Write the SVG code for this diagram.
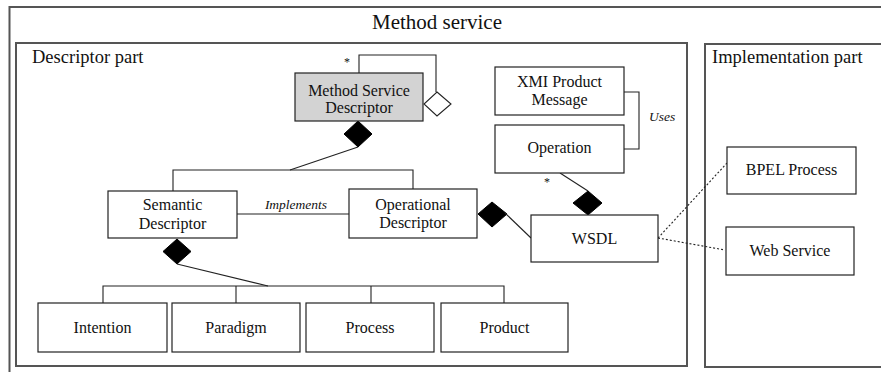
<svg xmlns="http://www.w3.org/2000/svg" width="881" height="372" viewBox="0 0 881 372">
<style>
.frame{fill:#fff;stroke:#555;stroke-width:2}
.node{fill:#fff;stroke:#222;stroke-width:1.2}
.grey{fill:#d3d3d3;stroke:#222;stroke-width:1.2}
.t{font-family:"Liberation Serif","Times New Roman",serif;font-size:16px;fill:#111;text-anchor:middle}
.lab{font-family:"Liberation Serif","Times New Roman",serif;fill:#111}
.it{font-family:"Liberation Serif","Times New Roman",serif;font-style:italic;font-size:13.5px;fill:#111}
.ln{fill:none;stroke:#222;stroke-width:1.1}
.dot{fill:none;stroke:#222;stroke-width:1.1;stroke-dasharray:2 2}
.fd{fill:#000;stroke:#000;stroke-width:1}
.od{fill:#fff;stroke:#222;stroke-width:1.1}
</style>
<rect width="881" height="372" fill="#fff"/>
<g id="method-service">
<rect class="frame" x="9.5" y="7" width="890" height="380"/>
<text class="lab" x="437" y="29" font-size="21" text-anchor="middle">Method service</text>
</g>
<g id="descriptor-part">
<rect class="frame" x="16" y="43" width="671" height="323"/>
<text class="lab" x="32" y="63" font-size="18.5">Descriptor part</text>
</g>
<g id="implementation-part">
<rect class="frame" x="705" y="44" width="190" height="323"/>
<text class="lab" x="712" y="63" font-size="18.5">Implementation part</text>
</g>
<g id="connectors">
<polyline class="ln" points="359,73 359,55 436,55 436,92"/>
<polygon class="od" points="437,92 451,104 437,116 424,104"/>
<text class="lab" x="347" y="66" font-size="12" text-anchor="middle">*</text>
<polygon class="fd" points="358,121 372,134 358,147 344,134"/>
<polyline class="ln" points="358,147 290,170"/>
<polyline class="ln" points="173,191 173,170 413,170 413,189"/>
<line class="ln" x1="237" y1="214" x2="349" y2="214"/>
<text class="it" x="296" y="209" text-anchor="middle">Implements</text>
<polygon class="fd" points="177,239 191,251.5 177,264 163,251.5"/>
<polyline class="ln" points="177,264 268,286"/>
<polyline class="ln" points="103,303 103,286 504,286 504,303"/>
<line class="ln" x1="236" y1="286" x2="236" y2="303"/>
<line class="ln" x1="371" y1="286" x2="371" y2="303"/>
<polygon class="fd" points="478,214 492,202 507,214 492,227"/>
<polyline class="ln" points="505,213 531,238"/>
<polygon class="fd" points="588,191 602,203 588,215 573,203"/>
<polyline class="ln" points="588,191 560,173"/>
<text class="lab" x="547" y="186" font-size="12" text-anchor="middle">*</text>
<polyline class="ln" points="624,92 639,92 639,149 624,149"/>
<text class="it" x="649" y="121">Uses</text>
<polyline class="dot" points="658,238 727,163"/>
<polyline class="dot" points="658,238 725,250"/>
</g>
<g id="msd">
<rect class="grey" x="295" y="73" width="128" height="48"/>
<text class="t" x="359" y="96">Method Service</text>
<text class="t" x="359" y="113">Descriptor</text>
</g>
<g id="xmi">
<rect class="node" x="495" y="67" width="129" height="48"/>
<text class="t" x="559.5" y="87">XMI Product</text>
<text class="t" x="559.5" y="105">Message</text>
</g>
<g id="operation">
<rect class="node" x="495" y="125" width="129" height="48"/>
<text class="t" x="559.5" y="153">Operation</text>
</g>
<g id="semantic">
<rect class="node" x="108" y="191" width="129" height="47"/>
<text class="t" x="172.5" y="210">Semantic</text>
<text class="t" x="172.5" y="229">Descriptor</text>
</g>
<g id="operational">
<rect class="node" x="349" y="189" width="128" height="49"/>
<text class="t" x="413" y="210">Operational</text>
<text class="t" x="413" y="228">Descriptor</text>
</g>
<g id="wsdl">
<rect class="node" x="531" y="215" width="127" height="47"/>
<text class="t" x="594.5" y="244">WSDL</text>
</g>
<g id="bpel">
<rect class="node" x="727" y="147" width="129" height="47"/>
<text class="t" x="791.5" y="175">BPEL Process</text>
</g>
<g id="webservice">
<rect class="node" x="726" y="227" width="128" height="48"/>
<text class="t" x="790" y="256">Web Service</text>
</g>
<g id="intention">
<rect class="node" x="38" y="303" width="129" height="49"/>
<text class="t" x="102.5" y="333">Intention</text>
</g>
<g id="paradigm">
<rect class="node" x="172" y="303" width="128" height="49"/>
<text class="t" x="236" y="333">Paradigm</text>
</g>
<g id="process">
<rect class="node" x="306" y="303" width="128" height="49"/>
<text class="t" x="370" y="333">Process</text>
</g>
<g id="product">
<rect class="node" x="441" y="303" width="127" height="49"/>
<text class="t" x="504.5" y="333">Product</text>
</g>
</svg>
